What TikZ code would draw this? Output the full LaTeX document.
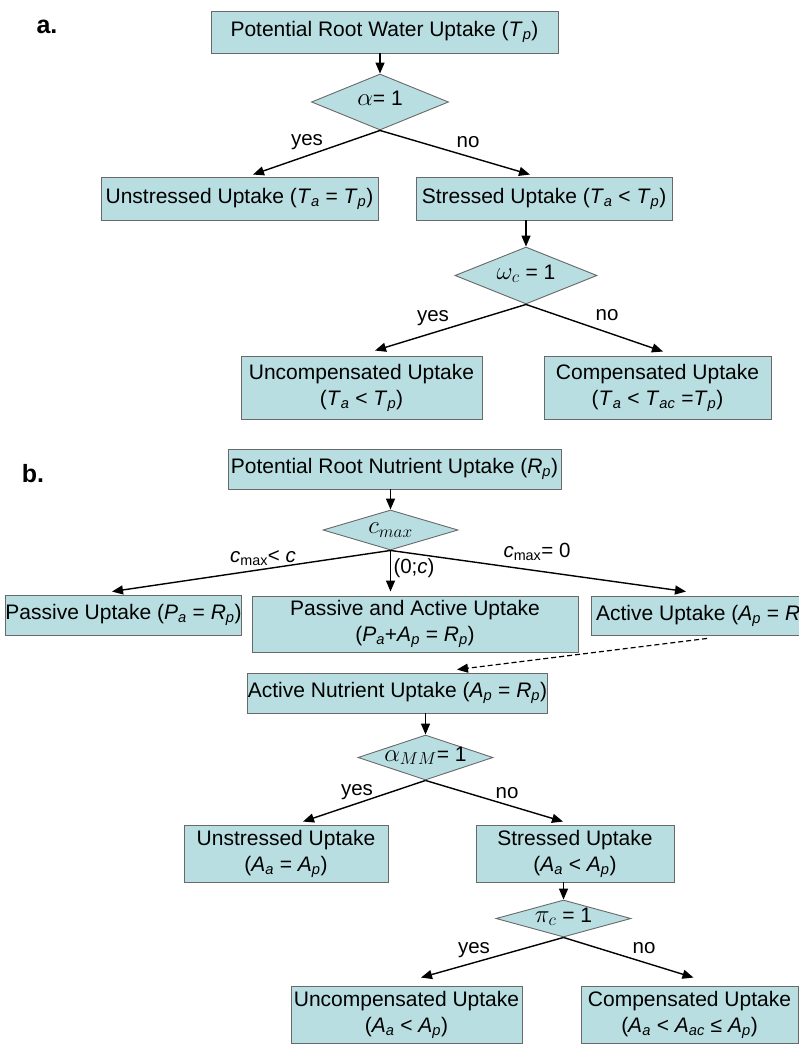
\documentclass[tikz,border=0pt]{standalone}
\usepackage{fontspec}
\setmainfont{Liberation Sans}
\usetikzlibrary{shapes.geometric,arrows.meta,calc}
\definecolor{boxfill}{RGB}{184,222,225}
\definecolor{boxline}{RGB}{105,105,105}
\newcommand\vsub[2]{\textit{#1}\textsubscript{\textit{#2}}}
\newcommand\diamath[1]{{\fontsize{25}{28}\selectfont$#1$}}
\begin{document}
\begin{tikzpicture}[x=1pt,y=-1pt,
  box/.style={draw=boxline, line width=0.9pt, fill=boxfill, inner sep=0pt, align=center, font=\fontsize{21}{26}\selectfont},
  dia/.style={diamond, draw=boxline, line width=0.9pt, fill=boxfill, inner sep=0pt, text height=11pt, text depth=4pt, font=\fontsize{21}{24}\selectfont},
  arr/.style={-{Triangle[length=11pt,width=9pt]}, line width=1.4pt, black},
  dasharr/.style={-{Triangle[length=11pt,width=9pt]}, line width=1.2pt, black, dash pattern=on 5pt off 3pt},
  lab/.style={font=\fontsize{20.5}{24}\selectfont, inner sep=0pt},
  panel/.style={font=\bfseries\fontsize{25}{30}\selectfont, inner sep=0pt, anchor=base}]
\useasboundingbox (0,0) rectangle (799,1046);
\fill[white] (0,0) rectangle (799,1046);
\clip (0,0) rectangle (799,1046);

% ---------- panel a ----------
\node[panel] (pa) at (47,34) {a.};
\node[box, minimum width=347pt, minimum height=42pt] (A0) at (384.5,32) {Potential Root Water Uptake (\vsub{T}{p})};
\node[dia, aspect=2.45, minimum width=137pt, minimum height=56pt] (Ad1) at (380,102) {\diamath{\alpha}= 1};
\node[box, minimum width=277pt, minimum height=43pt] (Aun) at (239.5,198.5) {Unstressed Uptake (\vsub{T}{a} = \vsub{T}{p})};
\node[box, minimum width=256pt, minimum height=43pt] (Ast) at (544,198.5) {Stressed Uptake (\vsub{T}{a} < \vsub{T}{p})};
\node[dia, aspect=2.5, minimum width=142pt, minimum height=57pt] (Ad2) at (526,275.5) {\diamath{\omega_c} = 1};
\node[box, minimum width=241pt, minimum height=63pt] (Aunc) at (361.5,387.5) {Uncompensated Uptake\\(\vsub{T}{a} < \vsub{T}{p})};
\node[box, minimum width=227pt, minimum height=63pt] (Acomp) at (657.5,387.5) {Compensated Uptake\\(\vsub{T}{a} < \vsub{T}{ac} =\vsub{T}{p})};

\draw[arr] (A0.south -| Ad1.north) -- (Ad1.north);
\draw[arr] (Ad1.south) -- ($(Aun.north)+(13.5,-2)$);
\draw[arr] (Ad1.south) -- ($(Ast.north)+(-14,-2)$);
\draw[arr] (Ast.south -| Ad2.north) -- (Ad2.north);
\draw[arr] (Ad2.south) -- ($(Aunc.north)+(13.5,-5)$);
\draw[arr] (Ad2.south) -- ($(Acomp.north)+(5.5,-4)$);
\node[lab] (ly1) at (307,142) {yes};
\node[lab] (ln1) at (468,142) {no};
\node[lab] (ly2) at (433,318) {yes};
\node[lab] (ln2) at (607,315) {no};

% ---------- panel b ----------
\node[panel] (pb) at (33,482) {b.};
\node[box, minimum width=333pt, minimum height=40pt] (B0) at (394.5,469) {Potential Root Nutrient Uptake (\vsub{R}{p})};
\node[dia, aspect=3.4, minimum width=135pt, minimum height=40pt] (Bd1) at (390.5,530) {\diamath{c_{max}}};
\node[box, minimum width=231pt, minimum height=40pt] (Bpas) at (123.5,615) {Passive Uptake (\vsub{P}{a} = \vsub{R}{p})};
\node[box, minimum width=326pt, minimum height=56pt] (Bpa) at (415,624) {Passive and Active Uptake\\(\vsub{P}{a}+\vsub{A}{p} = \vsub{R}{p})};
\node[box, minimum width=230pt, minimum height=39pt] (Bact) at (706,615.5) {Active Uptake (\vsub{A}{p} = \vsub{R}{p})};
\node[box, minimum width=299pt, minimum height=40pt] (Bnut) at (397.5,693) {Active Nutrient Uptake (\vsub{A}{p} = \vsub{R}{p})};
\node[dia, aspect=3, minimum width=135pt, minimum height=45pt] (Bd2) at (425.5,757.5) {\diamath{\alpha_{MM}}= 1};
\node[box, minimum width=204pt, minimum height=57pt] (Bun) at (286,853.5) {Unstressed Uptake\\(\vsub{A}{a} = \vsub{A}{p})};
\node[box, minimum width=198pt, minimum height=57pt] (Bst) at (575,853.5) {Stressed Uptake\\(\vsub{A}{a} < \vsub{A}{p})};
\node[dia, aspect=3.65, minimum width=135pt, minimum height=37pt] (Bd3) at (563.5,918.5) {\diamath{\pi_c} = 1};
\node[box, minimum width=231pt, minimum height=57pt] (Bunc) at (406.5,1014.5) {Uncompensated Uptake\\(\vsub{A}{a} < \vsub{A}{p})};
\node[box, minimum width=217pt, minimum height=57pt] (Bcomp) at (689.5,1014.5) {Compensated Uptake\\(\vsub{A}{a} < \vsub{A}{ac} ≤ \vsub{A}{p})};

\draw[arr] (B0.south -| Bd1.north) -- (Bd1.north);
\draw[arr] (Bd1.south) -- ($(Bpas.north)+(-11.5,-3)$);
\draw[arr] (Bd1.south) -- ($(Bd1.south |- Bpa.north)+(0,-4)$);
\draw[arr] (Bd1.south) -- ($(Bact.north)+(-20,-4)$);
\draw[dasharr] ($(Bact.south)+(1,3)$) -- ($(Bnut.north)+(59.5,-3)$);
\draw[arr] (Bnut.south -| Bd2.north) -- (Bd2.north);
\draw[arr] (Bd2.south) -- ($(Bun.north)+(17,-3)$);
\draw[arr] (Bd2.south) -- ($(Bst.north)+(-12,-3)$);
\draw[arr] (Bst.south -| Bd3.north) -- (Bd3.north);
\draw[arr] (Bd3.south) -- ($(Bunc.north)+(14.5,-8)$);
\draw[arr] (Bd3.south) -- ($(Bcomp.north)+(4,-8)$);
\node[lab] (lc1) at (263,558) {\textit{c}\textsubscript{max}< \textit{c}};
\node[lab] (lc2) at (414,568) {(0;\textit{c})};
\node[lab] (lc3) at (537,552) {\textit{c}\textsubscript{max}= 0};
\node[lab] (ly3) at (357,792) {yes};
\node[lab] (ln3) at (507,793) {no};
\node[lab] (ly4) at (474,950) {yes};
\node[lab] (ln4) at (644,948) {no};
\end{tikzpicture}
\end{document}
